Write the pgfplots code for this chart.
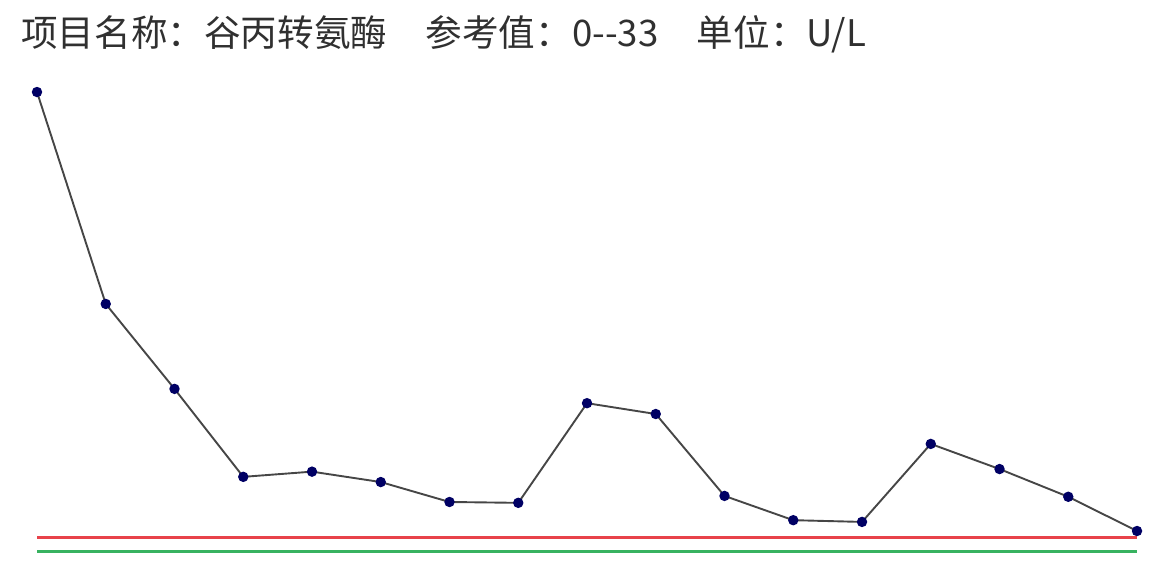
\documentclass[border=0pt]{standalone}
\usepackage{pgfplots}
\pgfplotsset{compat=1.18}
\usepackage{fontspec}
\newfontfamily\cjk{Noto Sans CJK SC}
\definecolor{refred}{RGB}{232,66,74}
\definecolor{refgreen}{RGB}{56,178,96}
\definecolor{ptnavy}{RGB}{0,0,100}
\definecolor{linegray}{RGB}{70,70,70}
\definecolor{titlegray}{RGB}{48,48,48}
\begin{document}
\begin{tikzpicture}
  \begin{axis}[
      scale only axis, width=550pt, height=216.67pt,
      xmin=1, xmax=17, ymin=0, ymax=1000,
      hide axis, clip=false]
    % page corners, in data units
    \coordinate (bl) at (axis cs:0.4618,-55.85);
    \coordinate (tr) at (axis cs:17.218,1273.4);
    \node[anchor=base west,inner sep=0pt,text=titlegray,font=\cjk\fontsize{18.3}{21}\selectfont]
      at (axis cs:0.767,1165) {项目名称：谷丙转氨酶\hspace{1.05em}参考值：0-{}-33\hspace{1.05em}单位：U/L};
    % reference range 0--33
    \addplot[refred, line width=1.1pt] coordinates {(1,33) (17,33)};
    \addplot[refgreen, line width=1.6pt] coordinates {(1,0) (17,0)};
    \addplot[linegray, line width=0.95pt, mark=*,
      mark options={ptnavy, draw=ptnavy, fill=ptnavy, scale=1.05}]
      coordinates {
        (1,1061) (2,572) (3,376) (4,173) (5,185) (6,161) (7,115) (8,113)
        (9,343) (10,318) (11,129) (12,73) (13,69) (14,249) (15,191)
        (16,127) (17,48)
      };
  \end{axis}
  \pgfresetboundingbox
  \path[use as bounding box] (bl) rectangle (tr);
\end{tikzpicture}
\end{document}
